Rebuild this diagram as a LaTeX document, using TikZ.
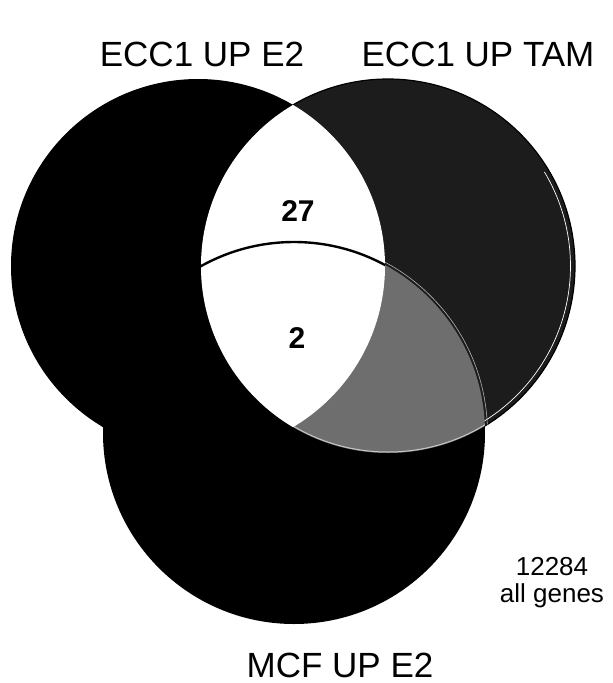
\documentclass[tikz,border=0pt]{standalone}
\usepackage{fontspec}
\setmainfont{Liberation Sans}
\definecolor{tamfill}{RGB}{28,28,28}
\definecolor{greyreg}{RGB}{110,110,110}
\tikzset{
  biglabel/.style={anchor=base, inner sep=0pt, font=\fontsize{35}{40}\selectfont},
  numlabel/.style={anchor=base, inner sep=0pt, font=\bfseries\fontsize{30}{34}\selectfont},
  smalllabel/.style={anchor=base, inner sep=0pt, align=center, font=\fontsize{26}{27}\selectfont},
}
\begin{document}
\begin{tikzpicture}[x=1pt,y=-1pt]
\useasboundingbox (0,0) rectangle (613,683);
\coordinate (cl) at (198,266);
\coordinate (cr) at (388,266);
\coordinate (cb) at (294,433);
% base discs
\fill[black] (cl) circle[radius=187];
\fill[black] (cb) circle[radius=191];
\fill[tamfill] (cr) circle[radius=187];
\draw[black, line width=1.2pt] (cr) circle[radius=187];
% white inner rim of the TAM circle
\draw[white, line width=0.7pt] (cr) ++(-31:182.5) arc[start angle=-31, end angle=60, radius=182.5];
% TAM and MCF overlap
\begin{scope}
  \clip (cr) circle[radius=187];
  \fill[greyreg] (cb) circle[radius=191];
  \draw[gray!60, line width=0.6pt] (cb) circle[radius=193.5];
\end{scope}
\begin{scope}
  \clip (293,0) rectangle (613,683);
  \clip (cb) circle[radius=191];
  \draw[gray!45, line width=1pt] (cr) circle[radius=186];
\end{scope}
% ECC1 E2 and ECC1 TAM overlap (white lens)
\begin{scope}
  \clip (cl) circle[radius=187];
  \fill[white] (cr) circle[radius=187];
  \draw[black, line width=2.4pt] (cb) circle[radius=191];
\end{scope}
% labels
\node[biglabel] (lE2) at (202,66) {ECC1 UP E2};
\node[biglabel] (lTAM) at (478,66) {ECC1 UP TAM};
\node[biglabel] (lMCF) at (340,677) {MCF UP E2};
\node[numlabel] (n27) at (298,221) {27};
\node[numlabel] (n2) at (297,348) {2};
\node[smalllabel] (lall) at (552,602) {12284\\all genes};
\end{tikzpicture}
\end{document}
